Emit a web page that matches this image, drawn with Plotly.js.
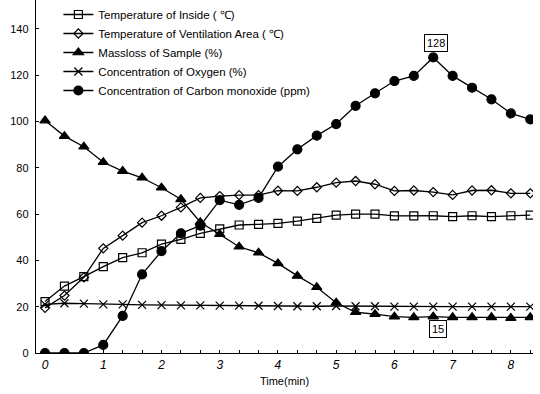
<!DOCTYPE html>
<html><head><meta charset="utf-8">
<script src="https://cdn.plot.ly/plotly-3.0.1.min.js"></script>
<style>body{margin:0;background:#fff}#c{width:540px;height:394px}</style>
</head><body><div id="c"></div>
<script>
const time = [0,1/3,2/3,1,4/3,5/3,2,7/3,8/3,3,10/3,11/3,4,13/3,14/3,5,16/3,17/3,6,19/3,20/3,7,22/3,23/3,8,25/3];
const tempInside = [22.2,28.9,33,37.3,41.2,43.3,47,49.1,51.7,53.6,55.3,55.6,56,57,58.2,59.6,60,60,59.2,59.2,59.3,58.9,59.3,58.9,59.3,59.6];
const tempVent = [19.5,24.8,32.7,45.2,50.7,56.3,59.3,62.9,67,67.8,68.2,68.2,70.1,70,71.6,73.6,74.3,72.9,70,70.2,69.5,68.3,70.2,70.3,69,69];
const massLoss = [100.4,93.7,89.1,82.4,78.6,75.7,71.4,66.4,56.5,51.3,45.9,43.3,38.7,33.3,28.4,21.7,17.6,16.8,15.7,15.4,15.7,15.4,15.4,15.4,15.1,15.4];
const oxygen = [21,21.5,21.3,21,21,20.8,20.7,20.6,20.6,20.5,20.5,20.4,20.3,20.2,20.2,20.3,20.2,20.2,20,20,20,20,20,20,20,20];
const carbonMonoxide = [0,0,0,3.5,16,34,44,51.7,55,66,64,67,80.5,88,93.9,98.9,106.8,112.2,117.5,119.7,127.7,119.7,114.6,109.6,103.5,100.9];
const names = ["Temperature of Inside ( ℃)","Temperature of Ventilation Area ( ℃)","Massloss of Sample (%)","Concentration of Oxygen (%)","Concentration of Carbon monoxide (ppm)"];
const xTickLabels = ["0","","","1","","","2","","","3","","","4","","","5","","","6","","","7","","","8",""];
const yTickVals = [0,20,40,60,80,100,120,140];
const peakLabel = "128", minLabel = "15";

const line = {color:'#000', width:1.3};
const mk = (sym, size) => ({symbol:sym, size:size, color:'#000', line:{color:'#000', width:1.2}});
const traces = [
  {x:time, y:tempInside, name:names[0], mode:'lines+markers', line, marker:mk('square-open',8)},
  {x:time, y:tempVent, name:names[1], mode:'lines+markers', line, marker:mk('diamond-open',7)},
  {x:time, y:massLoss, name:names[2], mode:'lines+markers', line, marker:mk('triangle-up',9)},
  {x:time, y:oxygen, name:names[3], mode:'lines+markers', line, marker:mk('x-thin-open',8)},
  {x:time, y:carbonMonoxide, name:names[4], mode:'lines+markers', line, marker:mk('circle',9)}
];
const layout = {
  width:540, height:394,
  margin:{l:36, r:7, t:0, b:41},
  paper_bgcolor:'#fff', plot_bgcolor:'#fff',
  font:{family:'Liberation Sans, Arial, sans-serif', size:11, color:'#000'},
  showlegend:true,
  legend:{x:0.045, y:1.0, xanchor:'left', yanchor:'top', bgcolor:'rgba(0,0,0,0)', font:{size:11.5}, tracegroupgap:0, itemwidth:30},
  xaxis:{range:[-0.155,8.38], showline:true, linecolor:'#000', linewidth:1.2, zeroline:false, showgrid:false,
    tickmode:'array', tickvals:time, ticktext:xTickLabels, ticks:'inside', ticklen:3, tickcolor:'#000', tickwidth:1,
    tickfont:{size:12, style:'italic', family:'Liberation Sans, Arial, sans-serif'},
    title:{text:'Time(min)', font:{size:11}, standoff:6}},
  yaxis:{range:[0,152.5], showline:true, linecolor:'#000', linewidth:1.2, zeroline:false, showgrid:false,
    tickmode:'array', tickvals:yTickVals, ticks:'inside', ticklen:3, tickcolor:'#000', tickwidth:1,
    ticklabelstandoff:4, tickfont:{size:11}},
  annotations:[
    {x:time[20], y:carbonMonoxide[20], text:peakLabel, showarrow:false, yshift:14, xshift:3, bordercolor:'#000', borderwidth:1, borderpad:2, bgcolor:'#fff', font:{size:11}},
    {x:time[20], y:massLoss[20], text:minLabel, showarrow:false, yshift:-12, xshift:5, bordercolor:'#000', borderwidth:1, borderpad:2, bgcolor:'#fff', font:{size:11}}
  ]
};
Plotly.newPlot('c', traces, layout, {displayModeBar:false, staticPlot:true});
</script></body></html>
